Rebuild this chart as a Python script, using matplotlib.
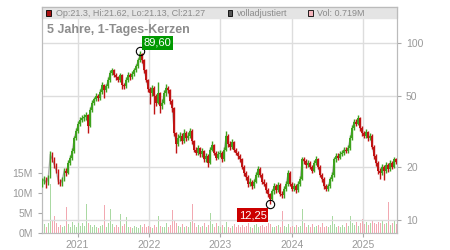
import matplotlib
matplotlib.use('Agg')
import matplotlib.pyplot as plt
import matplotlib.dates as mdates
from matplotlib.patches import Rectangle
from matplotlib.ticker import FixedLocator, NullLocator, FuncFormatter
import numpy as np
import pandas as pd

plt.rcParams['font.family'] = ['Liberation Sans', 'DejaVu Sans']

# sampled candles, roughly every 1.5 weeks, Jul 2020 - Jun 2025
closes = [
    16.5, 17.0, 16.2, 17.5, 23.5, 22.0, 20.5, 19.0, 16.5, 16.0,
    17.0, 19.0, 18.5, 21.0, 22.5, 24.5, 29.0, 32.0, 35.0, 36.5,
    37.5, 38.0, 39.0, 34.0, 42.0, 46.0, 48.0, 50.0, 49.0, 53.0,
    58.0, 54.0, 57.0, 62.0, 68.0, 70.0, 66.0, 64.0, 62.0, 66.0,
    58.0, 57.0, 62.0, 66.0, 64.0, 67.0, 70.0, 74.0, 80.0, 87.0,
    80.0, 70.0, 62.0, 55.0, 52.0, 56.0, 50.0, 46.0, 52.0, 44.0,
    46.0, 52.0, 56.0, 54.0, 47.0, 43.0, 31.0, 27.0, 29.0, 30.0,
    28.0, 31.0, 29.0, 30.0, 32.0, 28.0, 25.0, 24.0, 25.5, 23.5,
    24.5, 22.0, 23.0, 21.0, 25.0, 26.5, 24.0, 22.5, 23.5, 24.0,
    22.0, 25.0, 30.0, 27.0, 26.0, 27.5, 25.0, 24.0, 23.0, 22.0,
    20.0, 18.5, 17.5, 16.0, 16.5, 15.5, 16.5, 18.0, 19.5, 18.0,
    16.5, 16.0, 14.8, 14.0, 13.2, 14.5, 15.5, 14.8, 15.8, 14.0,
    13.8, 15.0, 16.0, 18.5, 16.0, 15.0, 15.5, 14.8, 16.0, 17.0,
    22.0, 21.5, 20.5, 21.0, 20.0, 19.0, 21.0, 22.0, 20.0, 18.0,
    17.0, 15.5, 15.0, 15.5, 17.0, 18.0, 22.0, 23.0, 22.5, 23.5,
    24.0, 25.0, 24.5, 25.5, 29.0, 33.0, 36.0, 35.0, 37.5, 33.0,
    31.0, 30.0, 31.5, 29.0, 30.0, 26.0, 23.0, 21.0, 19.0, 18.5,
    20.0, 19.0, 20.5, 19.5, 21.0, 20.0, 22.0, 21.27,
]
highs = [
    17.2, 17.8, 17.5, 18.0, 24.5, 24.2, 22.6, 21.0, 19.4, 17.0,
    17.6, 19.6, 19.8, 21.8, 23.4, 25.5, 30.0, 33.2, 36.4, 38.0,
    39.0, 39.6, 40.5, 39.8, 43.5, 47.6, 49.8, 52.0, 51.5, 55.0,
    60.0, 59.0, 59.0, 64.0, 70.5, 72.5, 71.5, 67.5, 65.5, 68.0,
    67.0, 59.5, 64.0, 68.5, 67.5, 69.5, 72.5, 76.5, 82.5, 89.6,
    88.0, 81.0, 71.0, 63.0, 56.5, 58.0, 57.0, 51.5, 60.0, 53.0,
    48.0, 54.0, 58.5, 57.5, 55.0, 48.0, 43.5, 31.5, 30.5, 31.5,
    31.0, 32.5, 31.8, 31.5, 33.2, 32.5, 28.5, 25.8, 26.5, 26.0,
    25.5, 25.0, 24.0, 23.5, 26.0, 27.8, 27.0, 24.6, 24.4, 25.0,
    24.5, 26.0, 32.0, 30.8, 27.8, 28.6, 28.0, 25.6, 24.6, 23.6,
    22.5, 20.5, 19.0, 17.9, 17.2, 16.9, 17.1, 18.7, 20.2, 19.9,
    18.4, 17.0, 16.3, 15.2, 14.3, 15.0, 16.1, 15.9, 16.4, 16.1,
    14.5, 15.6, 16.6, 19.2, 18.9, 16.4, 16.1, 15.9, 16.6, 17.7,
    22.8, 22.8, 22.0, 21.8, 21.5, 20.5, 21.8, 23.0, 22.4, 20.4,
    18.4, 17.4, 15.9, 16.0, 17.6, 18.7, 22.8, 24.0, 23.8, 24.4,
    25.0, 26.0, 25.8, 26.5, 30.2, 34.4, 37.4, 37.0, 39.0, 38.0,
    33.8, 31.8, 32.6, 32.0, 31.2, 30.5, 26.5, 23.5, 21.5, 19.6,
    20.8, 20.5, 21.4, 21.0, 21.8, 21.5, 22.8, 22.4,
]
lows = [
    15.4, 16.0, 15.2, 15.8, 17.2, 21.2, 19.8, 18.4, 16.0, 15.6,
    15.6, 16.6, 17.8, 18.2, 20.4, 21.8, 24.0, 28.2, 31.2, 34.0,
    35.6, 36.2, 36.8, 31.0, 33.5, 41.0, 44.8, 46.8, 47.2, 47.5,
    51.8, 49.0, 52.6, 55.5, 60.5, 66.0, 64.2, 62.0, 60.0, 60.5,
    55.0, 55.0, 56.0, 60.5, 62.0, 62.5, 65.5, 68.5, 72.5, 78.5,
    77.5, 67.5, 60.0, 53.0, 45.0, 50.5, 39.5, 44.0, 45.0, 40.0,
    42.5, 45.0, 50.5, 52.0, 45.5, 40.5, 30.0, 24.0, 26.2, 28.0,
    27.0, 27.2, 28.0, 28.2, 29.2, 27.0, 24.2, 23.2, 23.4, 22.8,
    22.8, 21.2, 21.4, 20.0, 20.6, 24.4, 23.2, 21.8, 22.0, 22.8,
    21.2, 21.5, 24.5, 26.0, 25.0, 25.2, 24.2, 23.2, 22.2, 21.2,
    19.4, 17.8, 16.9, 15.4, 15.5, 15.0, 15.1, 16.1, 17.6, 17.4,
    16.0, 15.5, 14.3, 13.5, 12.25, 12.9, 14.1, 14.3, 14.4, 13.6,
    13.3, 13.4, 14.6, 15.6, 15.5, 14.5, 14.6, 14.3, 14.4, 15.6,
    16.8, 20.8, 19.8, 20.0, 19.4, 18.4, 18.6, 20.4, 19.4, 17.4,
    16.5, 15.0, 14.5, 14.6, 15.1, 16.6, 17.6, 21.4, 21.8, 22.0,
    23.0, 23.4, 23.8, 23.9, 25.0, 28.4, 32.2, 33.8, 34.2, 32.0,
    30.0, 29.0, 29.2, 28.0, 28.2, 25.2, 22.2, 20.2, 18.2, 17.0,
    18.0, 16.8, 18.5, 18.8, 19.0, 19.4, 19.6, 20.8,
]
first_open = 16.0
volumes_m = [
    1.8, 2.2, 1.5, 2.6, 12.2, 3.2, 4.2, 2.4, 1.6, 2.0,
    1.4, 1.8, 6.5, 2.2, 1.6, 2.8, 2.0, 1.5, 2.4, 1.8,
    2.6, 1.7, 7.2, 2.4, 2.0, 1.6, 1.9, 1.4, 1.2, 1.8,
    2.0, 7.0, 1.6, 2.4, 6.0, 2.2, 1.5, 2.0, 1.4, 4.7,
    1.8, 2.2, 3.9, 1.6, 1.4, 1.2, 1.8, 1.5, 1.3, 2.0,
    1.6, 2.2, 1.4, 1.8, 1.5, 1.2, 2.0, 1.6, 4.2, 1.8,
    1.4, 1.6, 2.6, 1.5, 2.0, 5.7, 3.0, 2.4, 1.8, 1.5,
    2.2, 1.6, 1.8, 1.4, 2.8, 7.2, 2.4, 1.6, 2.0, 1.5,
    1.8, 2.6, 1.4, 2.0, 5.0, 2.2, 1.6, 2.4, 1.8, 1.5,
    2.0, 1.4, 2.8, 1.6, 1.2, 1.8, 2.2, 1.5, 1.9, 1.4,
    2.0, 1.6, 1.8, 2.4, 1.5, 1.3, 1.9, 2.2, 1.4, 1.7,
    2.0, 1.5, 1.8, 2.6, 2.2, 1.6, 1.4, 1.8, 2.0, 1.5,
    5.5, 1.8, 1.6, 2.2, 1.5, 1.8, 1.4, 2.0, 1.6, 1.8,
    6.0, 2.4, 1.6, 1.9, 1.5, 2.2, 1.4, 1.8, 2.0, 1.6,
    2.4, 1.5, 1.8, 1.4, 2.0, 4.2, 2.2, 1.6, 1.8, 1.5,
    2.0, 1.6, 2.4, 1.8, 4.2, 2.6, 2.0, 2.8, 1.8, 2.4,
    3.5, 2.2, 2.8, 2.0, 2.4, 3.0, 2.6, 2.2, 2.8, 2.4,
    3.0, 2.2, 2.6, 7.7, 2.0, 2.4, 3.0, 2.2,
]
price_ticks = [10, 20, 50, 100]
vol_ticks_m = [0, 5, 10, 15]
years = ['2021', '2022', '2023', '2024', '2025']
peak_label, low_label = '89,60', '12,25'

UP, DOWN = '#3ea21e', '#c01414'
VOL_UP, VOL_DOWN = '#aad9a2', '#f2a8b1'
GRAY_TXT = '#999999'

dates = pd.date_range('2020-07-05', '2025-06-18', periods=len(closes))
closes = np.array(closes)
opens = np.concatenate([[first_open], closes[:-1]])
highs = np.array(highs)
lows = np.array(lows)
vols = np.array(volumes_m) * 1e6
up = closes >= opens

W, H = 450, 250
fig = plt.figure(figsize=(W / 100, H / 100), dpi=100)
L, R, T, B = 41.7, 397, 7, 233
ax = fig.add_axes([L / W, 1 - B / H, (R - L) / W, (B - T) / H])
axp = ax.twinx()

# volume (left axis)
ax.bar(dates, vols, width=5, color=np.where(up, VOL_UP, VOL_DOWN), zorder=2)
ax.set_ylim(0, 56.5e6)
ax.yaxis.set_major_locator(FixedLocator([v * 1e6 for v in vol_ticks_m]))
ax.yaxis.set_major_formatter(FuncFormatter(lambda v, p: f'{v / 1e6:.0f}M'))

# candles (right log axis)
axp.set_yscale('log')
axp.plot(dates, closes, color='#aaaaaa', lw=0.9, zorder=2)
cols = np.where(up, UP, DOWN)
axp.vlines(dates, lows, highs, colors=cols, lw=1.0, zorder=3)
axp.bar(dates, np.abs(closes - opens), bottom=np.minimum(opens, closes),
        width=8, color=cols, zorder=3)
axp.set_ylim(8.45, 159.7)
axp.yaxis.set_major_locator(FixedLocator(price_ticks))
axp.yaxis.set_minor_locator(NullLocator())
axp.yaxis.set_major_formatter(FuncFormatter(lambda v, p: f'{v:g}'))
axp.grid(axis='y', color='#dddddd', lw=1, zorder=0)
axp.set_axisbelow(True)

ax.set_xlim(pd.Timestamp('2020-07-02'), pd.Timestamp('2025-06-22'))
ax.xaxis.set_major_locator(FixedLocator([mdates.date2num(pd.Timestamp(y + '-01-01')) for y in years]))
ax.set_xticklabels(years)
ax.grid(axis='x', color='#dddddd', lw=1, zorder=0)
ax.set_axisbelow(True)

for a in (ax, axp):
    for s in a.spines.values():
        s.set_color('#bbbbbb')
    a.tick_params(colors='#aaaaaa', labelcolor=GRAY_TXT, labelsize=7.5, length=3, width=0.8)
ax.tick_params(axis='x', pad=2)

# extreme markers
ipk = int(np.argmax(highs))
ilo = int(np.argmin(lows))
for i, val, lab, col, off, ha, va in [
        (ipk, highs[ipk], peak_label, '#009900', (2.5, 2.5), 'left', 'bottom'),
        (ilo, lows[ilo], low_label, '#cc0000', (-2.5, -4), 'right', 'top')]:
    axp.plot(dates[i], val, 'o', ms=6, mfc='none', mec='black', mew=0.8, zorder=5)
    axp.annotate(lab, (dates[i], val), xytext=off, textcoords='offset points',
                 ha=ha, va=va, fontsize=8, color='white', zorder=6,
                 bbox=dict(boxstyle='square,pad=0.15', fc=col, ec='none'))

# legend band + title
ax.add_patch(Rectangle((0, 1 - 11 / 226), 1, 11 / 226, transform=ax.transAxes,
                       color='#e4e4e4', zorder=1, clip_on=False))


def px(x, y):
    return x / W, 1 - y / H


for x0, fc, txt in [(46, '#aa1111', 'Op:21.3, Hi:21.62, Lo:21.13, Cl:21.27'),
                    (227.5, '#555555', 'volladjustiert'),
                    (307.5, '#f4b4bc', 'Vol: 0.719M')]:
    fig.add_artist(Rectangle(px(x0, 15.5), 5 / W, 5 / H, transform=fig.transFigure,
                             fc=fc, ec='black', lw=0.6))
    fig.text(*px(x0 + 9.5, 13), txt, fontsize=6.5, color='#8a8a8a', va='center')

fig.text(*px(47, 30), '5 Jahre, 1-Tages-Kerzen', fontsize=9, fontweight='bold',
         color='#8c8c8c', va='center')

fig.savefig('out.png', dpi=100, facecolor='white')
